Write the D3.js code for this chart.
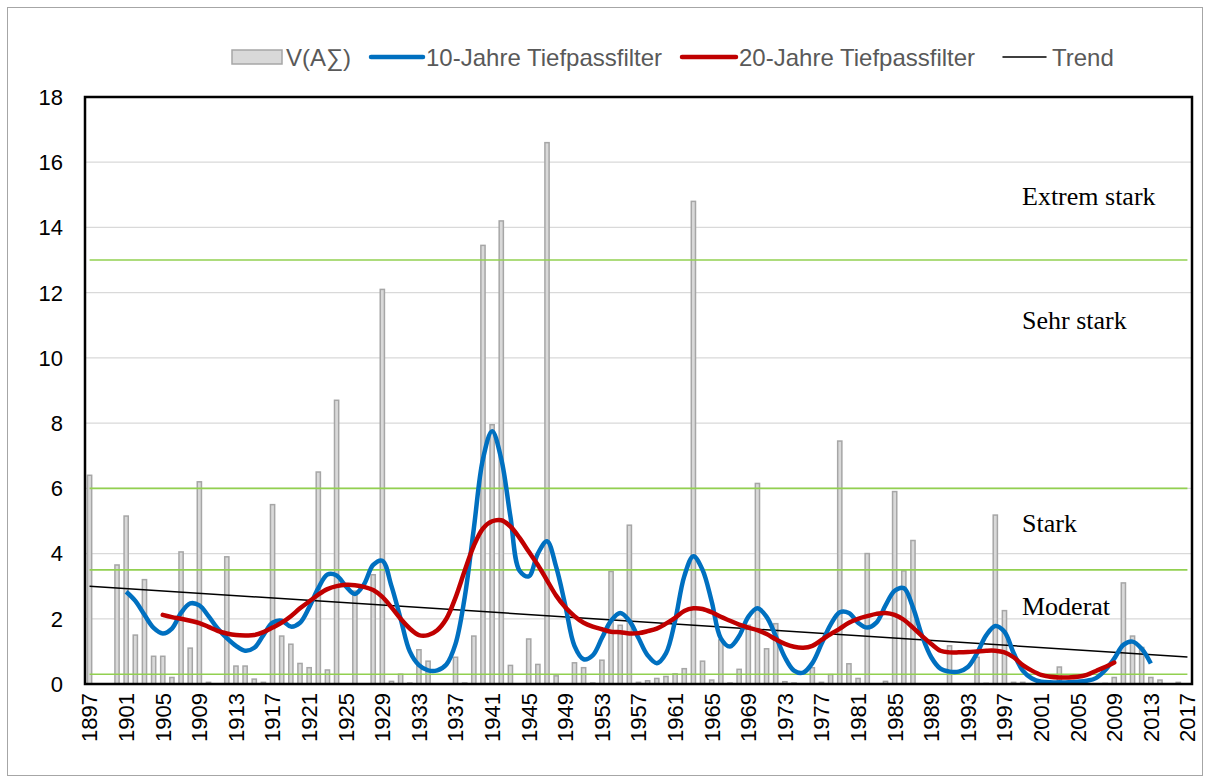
<!DOCTYPE html>
<html>
<head>
<meta charset="utf-8">
<script src="https://cdn.jsdelivr.net/npm/d3@7"></script>
<style>
  body { margin: 0; background: #fff; }
  svg { display: block; }
</style>
</head>
<body>
<svg id="chart" width="1205" height="778"></svg>
<script>
// Years on the category axis
const firstYear = 1897;
const lastYear = 2017;
const years = d3.range(firstYear, lastYear + 1);

// V(AΣ) per year, 1897..2017
const barValues = [
  6.4, 0, 0, 3.65, 5.15, 1.5, 3.2, 0.85, 0.85, 0.2,
  4.05, 1.1, 6.2, 0.05, 0, 3.9, 0.55, 0.55, 0.15, 0.05,
  5.5, 1.47, 1.22, 0.63, 0.5, 6.5, 0.43, 8.7, 0, 2.85,
  0, 3.35, 12.1, 0.08, 0.3, 0.03, 1.05, 0.7, 0, 0,
  0.82, 0.03, 1.47, 13.45, 7.95, 14.2, 0.57, 0, 1.38, 0.6,
  16.6, 0.25, 0, 0.65, 0.5, 0.03, 0.73, 3.45, 1.8, 4.87,
  0.05, 0.1, 0.17, 0.23, 0.31, 0.47, 14.8, 0.7, 0.12, 1.35,
  0.03, 0.45, 1.8, 6.15, 1.08, 1.85, 0.07, 0.03, 0, 0.5,
  0.05, 0.29, 7.45, 0.62, 0.17, 4.0, 0, 0.08, 5.9, 3.47,
  4.4, 0, 0, 0, 1.17, 0, 0, 0.82, 0.02, 5.18,
  2.25, 0.05, 0.05, 0, 0, 0, 0.52, 0.03, 0, 0,
  0, 0.02, 0.2, 3.1, 1.47, 1.12, 0.2, 0.12, 0, 0.05,
  0
];

// 10-Jahre Tiefpassfilter, 1901..2013
const filter10Start = 1901;
const filter10 = [
  2.83, 2.55, 2.12, 1.72, 1.55, 1.7, 2.18, 2.47, 2.41, 2.08,
  1.7, 1.41, 1.17, 1.02, 1.11, 1.5, 1.88, 1.94, 1.76, 1.88,
  2.35, 2.94, 3.36, 3.33, 3.0, 2.76, 3.06, 3.65, 3.78, 3.0,
  2.0, 1.0, 0.58, 0.42, 0.42, 0.6, 1.23, 2.65, 4.77, 6.9,
  7.75, 6.9, 5.13, 3.47, 3.3, 4.0, 4.38, 3.59, 2.41, 1.17,
  0.76, 0.88, 1.41, 1.94, 2.18, 1.94, 1.41, 0.88, 0.64, 0.94,
  1.94, 3.3, 3.92, 3.5, 2.53, 1.4, 1.15, 1.47, 2.06, 2.32,
  2.06, 1.47, 0.82, 0.41, 0.35, 0.64, 1.23, 1.82, 2.2, 2.18,
  1.88, 1.73, 1.88, 2.41, 2.86, 2.94, 2.35, 1.47, 0.82, 0.47,
  0.38, 0.38, 0.52, 0.94, 1.49, 1.78, 1.6, 0.95, 0.41, 0.17,
  0.07, 0.05, 0.05, 0.05, 0.07, 0.1, 0.18, 0.42, 0.78, 1.2,
  1.3, 1.08, 0.63
];

// 20-Jahre Tiefpassfilter, 1905..2009
const filter20Start = 1905;
const filter20 = [
  2.12, 2.05, 2.0, 1.94, 1.87, 1.75, 1.63, 1.55, 1.5, 1.49,
  1.5, 1.59, 1.73, 1.88, 2.08, 2.32, 2.53, 2.74, 2.91, 3.0,
  3.04, 3.03, 2.98, 2.88, 2.67, 2.35, 2.0, 1.7, 1.5, 1.5,
  1.65, 2.0, 2.65, 3.47, 4.24, 4.77, 4.99, 5.02, 4.83, 4.48,
  4.06, 3.65, 3.18, 2.71, 2.35, 2.08, 1.88, 1.76, 1.68, 1.6,
  1.59, 1.55, 1.56, 1.62, 1.7, 1.85, 2.03, 2.24, 2.32, 2.3,
  2.2, 2.06, 1.94, 1.82, 1.73, 1.65, 1.53, 1.37, 1.23, 1.14,
  1.11, 1.17, 1.35, 1.53, 1.7, 1.88, 2.0, 2.08, 2.15, 2.18,
  2.12, 1.97, 1.73, 1.47, 1.23, 1.02, 0.97, 0.97, 0.98, 1.0,
  1.02, 1.02, 0.97, 0.82, 0.58, 0.41, 0.28, 0.22, 0.2, 0.2,
  0.22, 0.28, 0.4, 0.52, 0.66
];

// Linear trend, value at first and last year
const trendStart = 3.0;
const trendEnd = 0.83;

// Class limits (green lines) and class names
const thresholds = [0.3, 3.5, 6, 13];
const classNames = ['Extrem stark', 'Sehr stark', 'Stark', 'Moderat'];
const classLevels = [14.68, 10.9, 4.66, 2.12];

const yTicks = d3.range(0, 19, 2);
const legendNames = ['V(A\u2211)', '10-Jahre Tiefpassfilter', '20-Jahre Tiefpassfilter', 'Trend'];

const svg = d3.select('#chart');
const margin = { top: 97, right: 13, bottom: 94, left: 85 };
const width = 1205, height = 778;

// outer chart frame
svg.append('rect')
  .attr('x', 7.5).attr('y', 7.5)
  .attr('width', 1195).attr('height', 768)
  .attr('fill', 'none')
  .attr('stroke', '#a6a6a6');

const x = d3.scaleBand()
  .domain(years)
  .range([margin.left, width - margin.right]);

const y = d3.scaleLinear()
  .domain([0, 18])
  .range([height - margin.bottom, margin.top]);

const cx = yr => x(yr) + x.bandwidth() / 2;

// gridlines
svg.append('g')
  .selectAll('line')
  .data(yTicks.filter(t => t > 0 && t < 18))
  .join('line')
  .attr('x1', margin.left).attr('x2', width - margin.right)
  .attr('y1', d => y(d)).attr('y2', d => y(d))
  .attr('stroke', '#d9d9d9')
  .attr('stroke-width', 1.2);

// bars
const barW = 4.2;
svg.append('g')
  .selectAll('rect')
  .data(years.map((yr, i) => ({ yr, v: barValues[i] })))
  .join('rect')
  .attr('x', d => cx(d.yr) - barW / 2)
  .attr('width', barW)
  .attr('y', d => y(d.v))
  .attr('height', d => y(0) - y(d.v))
  .attr('fill', '#d9d9d9')
  .attr('stroke', '#a6a6a6')
  .attr('stroke-width', 1.5);

// class limit lines
svg.append('g')
  .selectAll('line')
  .data(thresholds)
  .join('line')
  .attr('x1', cx(firstYear)).attr('x2', cx(lastYear))
  .attr('y1', d => y(d)).attr('y2', d => y(d))
  .attr('stroke', '#92d050')
  .attr('stroke-width', 1.6);

// class names
svg.append('g')
  .selectAll('text')
  .data(classNames)
  .join('text')
  .attr('x', 1022)
  .attr('y', (d, i) => y(classLevels[i]))
  .attr('font-family', '"Liberation Serif", "Times New Roman", serif')
  .attr('font-size', 26)
  .attr('fill', '#000')
  .text(d => d);

// trend
svg.append('line')
  .attr('x1', cx(firstYear)).attr('y1', y(trendStart))
  .attr('x2', cx(lastYear)).attr('y2', y(trendEnd))
  .attr('stroke', '#000')
  .attr('stroke-width', 1.5);

const line = d3.line()
  .x(d => cx(d.yr))
  .y(d => y(d.v))
  .curve(d3.curveCatmullRom.alpha(0.5));

const series = (start, vals) => vals.map((v, i) => ({ yr: start + i, v }));

svg.append('path')
  .datum(series(filter10Start, filter10))
  .attr('d', line)
  .attr('fill', 'none')
  .attr('stroke', '#0070c0')
  .attr('stroke-width', 4.5)
  .attr('stroke-linejoin', 'round');

svg.append('path')
  .datum(series(filter20Start, filter20))
  .attr('d', line)
  .attr('fill', 'none')
  .attr('stroke', '#c00000')
  .attr('stroke-width', 4.5)
  .attr('stroke-linejoin', 'round')
  .attr('stroke-linecap', 'round');

// plot frame
svg.append('rect')
  .attr('x', margin.left).attr('y', margin.top)
  .attr('width', width - margin.left - margin.right)
  .attr('height', height - margin.top - margin.bottom)
  .attr('fill', 'none')
  .attr('stroke', '#000')
  .attr('stroke-width', 2.5);

// y axis labels
svg.append('g')
  .selectAll('text')
  .data(yTicks)
  .join('text')
  .attr('x', margin.left - 22)
  .attr('y', d => y(d))
  .attr('dy', '0.36em')
  .attr('text-anchor', 'end')
  .attr('font-family', '"Liberation Sans", Arial, sans-serif')
  .attr('font-size', 22)
  .attr('fill', '#000')
  .text(d => d);

// x axis labels, every 4th year
svg.append('g')
  .selectAll('text')
  .data(years.filter(yr => (yr - firstYear) % 4 === 0))
  .join('text')
  .attr('transform', d => `translate(${cx(d)},${height - margin.bottom + 9}) rotate(-90)`)
  .attr('dy', '0.36em')
  .attr('text-anchor', 'end')
  .attr('font-family', '"Liberation Sans", Arial, sans-serif')
  .attr('font-size', 22)
  .attr('fill', '#000')
  .text(d => d);

// legend
const legend = svg.append('g')
  .attr('font-family', '"Liberation Sans", Arial, sans-serif')
  .attr('font-size', 24)
  .attr('fill', '#595959');
const ly = 57;

legend.append('rect')
  .attr('x', 232).attr('y', ly - 7)
  .attr('width', 50).attr('height', 14)
  .attr('fill', '#d9d9d9')
  .attr('stroke', '#a6a6a6')
  .attr('stroke-width', 1.5);

const keys = [
  { x1: 371, x2: 423, color: '#0070c0', w: 4.5 },
  { x1: 682, x2: 736, color: '#c00000', w: 4.5 },
  { x1: 1003, x2: 1046, color: '#000', w: 1.5 }
];
legend.selectAll('line')
  .data(keys)
  .join('line')
  .attr('x1', d => d.x1).attr('x2', d => d.x2)
  .attr('y1', ly).attr('y2', ly)
  .attr('stroke', d => d.color)
  .attr('stroke-width', d => d.w)
  .attr('stroke-linecap', 'round');

const textX = [286, 426, 739, 1052];
legend.selectAll('text')
  .data(legendNames)
  .join('text')
  .attr('x', (d, i) => textX[i])
  .attr('y', ly)
  .attr('dy', '0.36em')
  .text(d => d);
</script>
</body>
</html>
